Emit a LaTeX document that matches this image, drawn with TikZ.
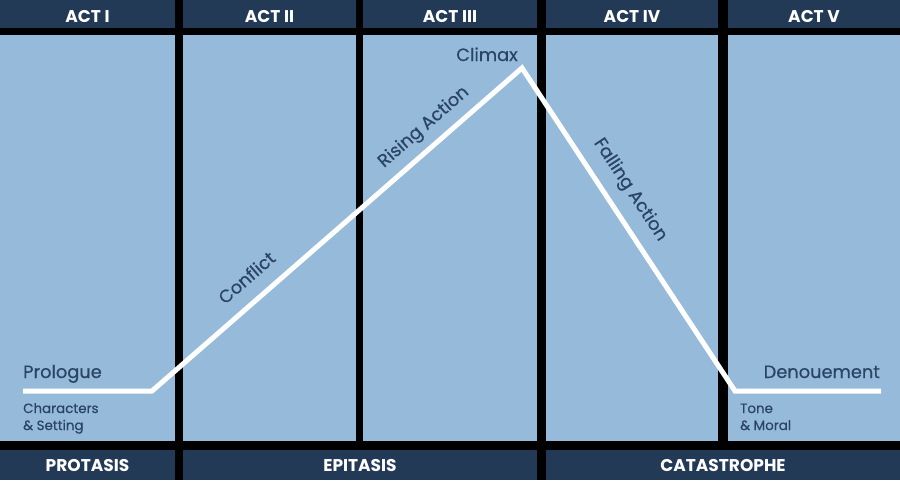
\documentclass[tikz,border=0pt]{standalone}
\usepackage{fontspec}
\setmainfont{Poppins}
\newfontfamily\medfont{Poppins}[FakeBold=0.5]
\definecolor{actnavy}{RGB}{35,58,87}
\definecolor{actsky}{RGB}{150,186,218}
\definecolor{actink}{RGB}{42,68,100}

\begin{document}
\begin{tikzpicture}[x=1pt,y=-1pt,
	band/.style={fill=actnavy,text=white,inner sep=0pt,font=\bfseries\fontsize{17}{20}\selectfont},
	head/.style={band,minimum height=28pt,text height=17pt,text depth=0pt},
	panel/.style={fill=actsky,inner sep=0pt,minimum height=406pt},
	lbl/.style={text=actink,inner sep=0pt,font=\medfont\fontsize{17.8}{21}\selectfont},
	note/.style={text=actink,inner sep=0pt,align=left,font=\medfont\fontsize{13.4}{17}\selectfont},
	arc/.style={white,line width=5pt}]
	\fill[black] (0,0) rectangle (900,480);
	\node[head,minimum width=175pt] (act1) at (87.5,14) {ACT I};
	\node[head,minimum width=173pt] (act2) at (269.5,14) {ACT II};
	\node[head,minimum width=174pt] (act3) at (450,14) {ACT III};
	\node[head,minimum width=172pt] (act4) at (632,14) {ACT IV};
	\node[head,minimum width=172pt] (act5) at (814,14) {ACT V};
	\node[panel,minimum width=175pt] (p1) at (87.5,238) {};
	\node[panel,minimum width=173pt] (p2) at (269.5,238) {};
	\node[panel,minimum width=174pt] (p3) at (450,238) {};
	\node[panel,minimum width=172pt] (p4) at (632,238) {};
	\node[panel,minimum width=172pt] (p5) at (814,238) {};
	\node[band,minimum width=175pt,minimum height=30pt] (protasis) at (87.5,465) {PROTASIS};
	\node[band,minimum width=354pt,minimum height=30pt] (epitasis) at (360,465) {EPITASIS};
	\node[band,minimum width=354pt,minimum height=30pt] (catastrophe) at (723,465) {CATASTROPHE};
	\coordinate (start) at (23,391);
	\coordinate (knee1) at (152,391);
	\coordinate (peak) at (522,68);
	\coordinate (knee2) at (735,391);
	\coordinate (finish) at (881,391);
	\draw[arc] (start) -- (knee1) -- (peak) -- (knee2) -- (finish);
	\node[lbl,anchor=base west] (prologue) at (23,378) {Prologue};
	\node[note,anchor=base west] (setting) at (23,430) {Characters\\\& Setting};
	\node[lbl,rotate=41.1] (conflict) at (246.5,277.5) {Conflict};
	\node[lbl,rotate=41.1] (rising) at (424,127.5) {Rising Action};
	\node[lbl,anchor=base] (climax) at (487,61) {Climax};
	\node[lbl,rotate=-56.6] (falling) at (630,190) {Falling Action};
	\node[lbl,anchor=base east] (denouement) at (880,378) {Denouement};
	\node[note,anchor=base west] (moral) at (740,430) {Tone\\\& Moral};
\end{tikzpicture}
\end{document}
